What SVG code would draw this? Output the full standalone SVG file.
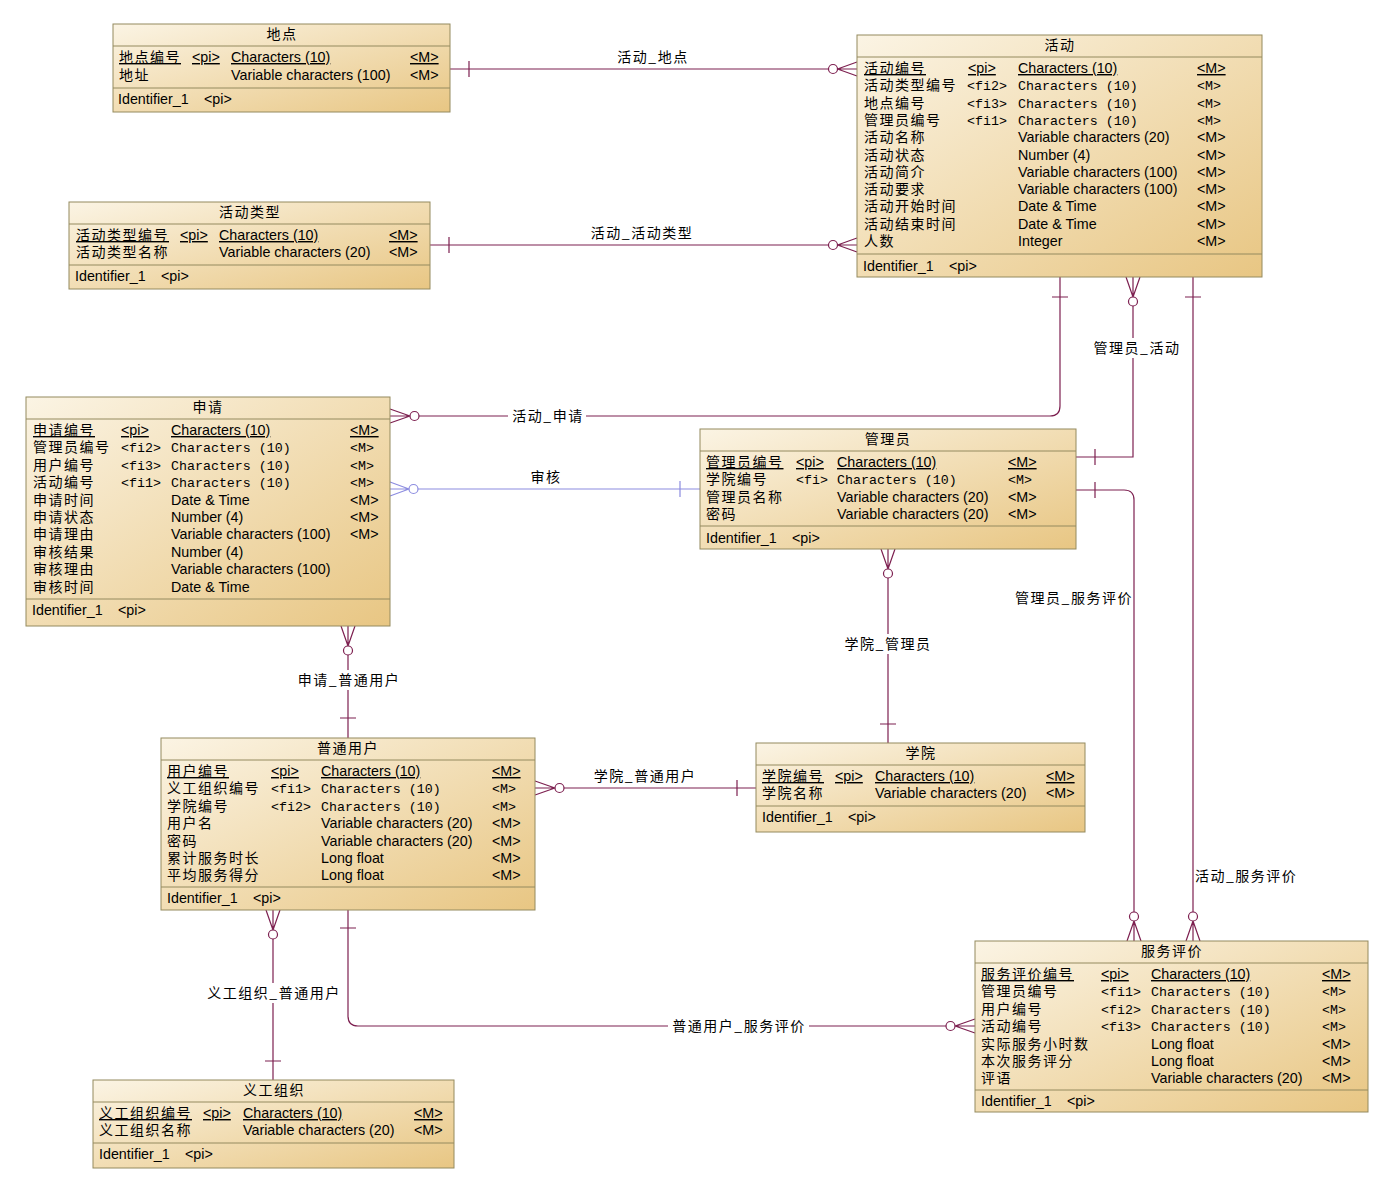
<svg xmlns="http://www.w3.org/2000/svg" width="1390" height="1184" viewBox="0 0 1390 1184">
<defs>
<linearGradient id="g" x1="0" y1="0" x2="1" y2="1">
<stop offset="0" stop-color="#fbf4e4"/>
<stop offset="1" stop-color="#e8c683"/>
</linearGradient>
<style>
.box{fill:url(#g);stroke:#948a5e;stroke-width:1}
.sep{stroke:#948a5e;stroke-width:1}
.cn{font-family:"Noto Sans CJK SC","Noto Sans CJK JP",sans-serif;font-size:14px;letter-spacing:1.5px;fill:#000}
.la{font-family:"Liberation Sans",Arial,sans-serif;font-size:14.3px;fill:#000}
.mo{font-family:"Liberation Mono","Courier New",monospace;font-size:13.3px;fill:#000}
.u{text-decoration:underline}
.ti{text-anchor:middle}
.ln{fill:none;stroke:#7d2050;stroke-width:1.2}
.lv{fill:none;stroke:#8c8ce0;stroke-width:1.2}
.ci{fill:#fff;stroke:#7d2050;stroke-width:1.2}
.civ{fill:#fff;stroke:#8c8ce0;stroke-width:1.2}
.bg{fill:#fff}
</style>
</defs>
<rect width="1390" height="1184" fill="#fff"/>

<g id="connectors">
<path class="ln" d="M450,69 H857 M469,61 V77 M857,62 L837.5,69 M857,76 L837.5,69"/>
<circle class="ci" cx="833" cy="69" r="4.5"/>
<text class="cn ti" x="653" y="62">活动_地点</text>
<path class="ln" d="M430,245 H857 M449,237 V253 M857,238 L837.5,245 M857,252 L837.5,245"/>
<circle class="ci" cx="833" cy="245" r="4.5"/>
<text class="cn ti" x="642" y="238">活动_活动类型</text>
<path class="ln" d="M1060,277 V406 Q1060,416 1050,416 H390 M1052,297 H1068 M390,409 L410,416 M390,423 L410,416"/>
<circle class="ci" cx="414.5" cy="416" r="4.5"/>
<rect class="bg" x="508" y="406" width="78" height="20"/>
<text class="cn ti" x="548" y="421">活动_申请</text>
<path class="ln" d="M1133,277 V457 H1076 M1126,277 L1133,297 M1140,277 L1133,297 M1095,449 V465"/>
<circle class="ci" cx="1133" cy="301.5" r="4.5"/>
<rect class="bg" x="1090" y="338" width="92" height="20"/>
<text class="cn ti" x="1137" y="353">管理员_活动</text>
<path class="ln" d="M1193,277 V941 M1185,297 H1201 M1186,941 L1193,921 M1200,941 L1193,921"/>
<circle class="ci" cx="1193" cy="916.5" r="4.5"/>
<text class="cn" x="1195" y="881">活动_服务评价</text>
<path class="ln" d="M1076,490 H1124 Q1134,490 1134,500 V941 M1095,482 V498 M1127,941 L1134,921 M1141,941 L1134,921"/>
<circle class="ci" cx="1134" cy="916.5" r="4.5"/>
<text class="cn ti" x="1074" y="603">管理员_服务评价</text>
<path class="lv" d="M390,489 H700 M680,481 V497 M390,482 L409,489 M390,496 L409,489"/>
<circle class="civ" cx="413.5" cy="489" r="4.5"/>
<text class="cn ti" x="546" y="482">审核</text>
<path class="ln" d="M888,549 V743 M881,549 L888,569 M895,549 L888,569 M880,724 H896"/>
<circle class="ci" cx="888" cy="573.5" r="4.5"/>
<rect class="bg" x="842" y="634" width="92" height="20"/>
<text class="cn ti" x="888" y="649">学院_管理员</text>
<path class="ln" d="M348,626 V738 M341,626 L348,646 M355,626 L348,646 M340,718 H356"/>
<circle class="ci" cx="348" cy="650.5" r="4.5"/>
<rect class="bg" x="294" y="670" width="110" height="20"/>
<text class="cn ti" x="349" y="685">申请_普通用户</text>
<path class="ln" d="M535,788 H756 M535,781 L555,788 M535,795 L555,788 M737,780 V796"/>
<circle class="ci" cx="559.5" cy="788" r="4.5"/>
<text class="cn ti" x="645" y="781">学院_普通用户</text>
<path class="ln" d="M273,910 V1080 M266,910 L273,930 M280,910 L273,930 M265,1061 H281"/>
<circle class="ci" cx="273" cy="934.5" r="4.5"/>
<rect class="bg" x="203" y="983" width="140" height="20"/>
<text class="cn ti" x="274" y="998">义工组织_普通用户</text>
<path class="ln" d="M348,910 V1016 Q348,1026 358,1026 H975 M340,928 H356 M975,1019 L955,1026 M975,1033 L955,1026"/>
<circle class="ci" cx="950.5" cy="1026" r="4.5"/>
<rect class="bg" x="668" y="1016" width="141" height="20"/>
<text class="cn ti" x="739" y="1031">普通用户_服务评价</text>
</g>

<g id="e-didian">
<rect class="box" x="113" y="24" width="337" height="88"/>
<path class="sep" d="M113,46 H450 M113,88 H450"/>
<text class="cn ti" x="282" y="39">地点</text>
<text class="cn u" x="119" y="62">地点编号</text><text class="la u" x="192" y="62">&lt;pi&gt;</text><text class="la u" x="231" y="62">Characters (10)</text><text class="la u" x="410" y="62">&lt;M&gt;</text>
<text class="cn" x="119" y="80">地址</text><text class="la" x="231" y="80">Variable characters (100)</text><text class="la" x="410" y="80">&lt;M&gt;</text>
<text class="la" x="118" y="104">Identifier_1</text><text class="la" x="204" y="104">&lt;pi&gt;</text>
</g>

<g id="e-huodong">
<rect class="box" x="857" y="35" width="405" height="242"/>
<path class="sep" d="M857,57 H1262 M857,254 H1262"/>
<text class="cn ti" x="1060" y="50">活动</text>
<text class="cn u" x="864" y="73">活动编号</text><text class="la u" x="968" y="73">&lt;pi&gt;</text><text class="la u" x="1018" y="73">Characters (10)</text><text class="la u" x="1197" y="73">&lt;M&gt;</text>
<text class="cn" x="864" y="90.3">活动类型编号</text><text class="mo" x="967" y="90.3">&lt;fi2&gt;</text><text class="mo" x="1018" y="90.3">Characters (10)</text><text class="mo" x="1197" y="90.3">&lt;M&gt;</text>
<text class="cn" x="864" y="107.6">地点编号</text><text class="mo" x="967" y="107.6">&lt;fi3&gt;</text><text class="mo" x="1018" y="107.6">Characters (10)</text><text class="mo" x="1197" y="107.6">&lt;M&gt;</text>
<text class="cn" x="864" y="124.9">管理员编号</text><text class="mo" x="967" y="124.9">&lt;fi1&gt;</text><text class="mo" x="1018" y="124.9">Characters (10)</text><text class="mo" x="1197" y="124.9">&lt;M&gt;</text>
<text class="cn" x="864" y="142.2">活动名称</text><text class="la" x="1018" y="142.2">Variable characters (20)</text><text class="la" x="1197" y="142.2">&lt;M&gt;</text>
<text class="cn" x="864" y="159.5">活动状态</text><text class="la" x="1018" y="159.5">Number (4)</text><text class="la" x="1197" y="159.5">&lt;M&gt;</text>
<text class="cn" x="864" y="176.8">活动简介</text><text class="la" x="1018" y="176.8">Variable characters (100)</text><text class="la" x="1197" y="176.8">&lt;M&gt;</text>
<text class="cn" x="864" y="194.1">活动要求</text><text class="la" x="1018" y="194.1">Variable characters (100)</text><text class="la" x="1197" y="194.1">&lt;M&gt;</text>
<text class="cn" x="864" y="211.4">活动开始时间</text><text class="la" x="1018" y="211.4">Date &amp; Time</text><text class="la" x="1197" y="211.4">&lt;M&gt;</text>
<text class="cn" x="864" y="228.7">活动结束时间</text><text class="la" x="1018" y="228.7">Date &amp; Time</text><text class="la" x="1197" y="228.7">&lt;M&gt;</text>
<text class="cn" x="864" y="246">人数</text><text class="la" x="1018" y="246">Integer</text><text class="la" x="1197" y="246">&lt;M&gt;</text>
<text class="la" x="863" y="271">Identifier_1</text><text class="la" x="949" y="271">&lt;pi&gt;</text>
</g>

<g id="e-huodongleixing">
<rect class="box" x="69" y="202" width="361" height="87"/>
<path class="sep" d="M69,224 H430 M69,265 H430"/>
<text class="cn ti" x="250" y="217">活动类型</text>
<text class="cn u" x="76" y="240">活动类型编号</text><text class="la u" x="180" y="240">&lt;pi&gt;</text><text class="la u" x="219" y="240">Characters (10)</text><text class="la u" x="389" y="240">&lt;M&gt;</text>
<text class="cn" x="76" y="257.4">活动类型名称</text><text class="la" x="219" y="257.4">Variable characters (20)</text><text class="la" x="389" y="257.4">&lt;M&gt;</text>
<text class="la" x="75" y="281">Identifier_1</text><text class="la" x="161" y="281">&lt;pi&gt;</text>
</g>

<g id="e-shenqing">
<rect class="box" x="26" y="397" width="364" height="229"/>
<path class="sep" d="M26,419 H390 M26,599 H390"/>
<text class="cn ti" x="208" y="412">申请</text>
<text class="cn u" x="33" y="435">申请编号</text><text class="la u" x="121" y="435">&lt;pi&gt;</text><text class="la u" x="171" y="435">Characters (10)</text><text class="la u" x="350" y="435">&lt;M&gt;</text>
<text class="cn" x="33" y="452.4">管理员编号</text><text class="mo" x="121" y="452.4">&lt;fi2&gt;</text><text class="mo" x="171" y="452.4">Characters (10)</text><text class="mo" x="350" y="452.4">&lt;M&gt;</text>
<text class="cn" x="33" y="469.8">用户编号</text><text class="mo" x="121" y="469.8">&lt;fi3&gt;</text><text class="mo" x="171" y="469.8">Characters (10)</text><text class="mo" x="350" y="469.8">&lt;M&gt;</text>
<text class="cn" x="33" y="487.2">活动编号</text><text class="mo" x="121" y="487.2">&lt;fi1&gt;</text><text class="mo" x="171" y="487.2">Characters (10)</text><text class="mo" x="350" y="487.2">&lt;M&gt;</text>
<text class="cn" x="33" y="504.6">申请时间</text><text class="la" x="171" y="504.6">Date &amp; Time</text><text class="la" x="350" y="504.6">&lt;M&gt;</text>
<text class="cn" x="33" y="522">申请状态</text><text class="la" x="171" y="522">Number (4)</text><text class="la" x="350" y="522">&lt;M&gt;</text>
<text class="cn" x="33" y="539.4">申请理由</text><text class="la" x="171" y="539.4">Variable characters (100)</text><text class="la" x="350" y="539.4">&lt;M&gt;</text>
<text class="cn" x="33" y="556.8">审核结果</text><text class="la" x="171" y="556.8">Number (4)</text>
<text class="cn" x="33" y="574.2">审核理由</text><text class="la" x="171" y="574.2">Variable characters (100)</text>
<text class="cn" x="33" y="591.6">审核时间</text><text class="la" x="171" y="591.6">Date &amp; Time</text>
<text class="la" x="32" y="615">Identifier_1</text><text class="la" x="118" y="615">&lt;pi&gt;</text>
</g>

<g id="e-guanliyuan">
<rect class="box" x="700" y="429" width="376" height="120"/>
<path class="sep" d="M700,451 H1076 M700,526 H1076"/>
<text class="cn ti" x="888" y="444">管理员</text>
<text class="cn u" x="706" y="467">管理员编号</text><text class="la u" x="796" y="467">&lt;pi&gt;</text><text class="la u" x="837" y="467">Characters (10)</text><text class="la u" x="1008" y="467">&lt;M&gt;</text>
<text class="cn" x="706" y="484.4">学院编号</text><text class="mo" x="796" y="484.4">&lt;fi&gt;</text><text class="mo" x="837" y="484.4">Characters (10)</text><text class="mo" x="1008" y="484.4">&lt;M&gt;</text>
<text class="cn" x="706" y="501.8">管理员名称</text><text class="la" x="837" y="501.8">Variable characters (20)</text><text class="la" x="1008" y="501.8">&lt;M&gt;</text>
<text class="cn" x="706" y="519.2">密码</text><text class="la" x="837" y="519.2">Variable characters (20)</text><text class="la" x="1008" y="519.2">&lt;M&gt;</text>
<text class="la" x="706" y="543">Identifier_1</text><text class="la" x="792" y="543">&lt;pi&gt;</text>
</g>

<g id="e-putongyonghu">
<rect class="box" x="161" y="738" width="374" height="172"/>
<path class="sep" d="M161,760 H535 M161,887 H535"/>
<text class="cn ti" x="348" y="753">普通用户</text>
<text class="cn u" x="167" y="776">用户编号</text><text class="la u" x="271" y="776">&lt;pi&gt;</text><text class="la u" x="321" y="776">Characters (10)</text><text class="la u" x="492" y="776">&lt;M&gt;</text>
<text class="cn" x="167" y="793.4">义工组织编号</text><text class="mo" x="271" y="793.4">&lt;fi1&gt;</text><text class="mo" x="321" y="793.4">Characters (10)</text><text class="mo" x="492" y="793.4">&lt;M&gt;</text>
<text class="cn" x="167" y="810.8">学院编号</text><text class="mo" x="271" y="810.8">&lt;fi2&gt;</text><text class="mo" x="321" y="810.8">Characters (10)</text><text class="mo" x="492" y="810.8">&lt;M&gt;</text>
<text class="cn" x="167" y="828.2">用户名</text><text class="la" x="321" y="828.2">Variable characters (20)</text><text class="la" x="492" y="828.2">&lt;M&gt;</text>
<text class="cn" x="167" y="845.6">密码</text><text class="la" x="321" y="845.6">Variable characters (20)</text><text class="la" x="492" y="845.6">&lt;M&gt;</text>
<text class="cn" x="167" y="863">累计服务时长</text><text class="la" x="321" y="863">Long float</text><text class="la" x="492" y="863">&lt;M&gt;</text>
<text class="cn" x="167" y="880.4">平均服务得分</text><text class="la" x="321" y="880.4">Long float</text><text class="la" x="492" y="880.4">&lt;M&gt;</text>
<text class="la" x="167" y="903">Identifier_1</text><text class="la" x="253" y="903">&lt;pi&gt;</text>
</g>

<g id="e-xueyuan">
<rect class="box" x="756" y="743" width="329" height="89"/>
<path class="sep" d="M756,765 H1085 M756,806 H1085"/>
<text class="cn ti" x="921" y="758">学院</text>
<text class="cn u" x="762" y="781">学院编号</text><text class="la u" x="835" y="781">&lt;pi&gt;</text><text class="la u" x="875" y="781">Characters (10)</text><text class="la u" x="1046" y="781">&lt;M&gt;</text>
<text class="cn" x="762" y="798.4">学院名称</text><text class="la" x="875" y="798.4">Variable characters (20)</text><text class="la" x="1046" y="798.4">&lt;M&gt;</text>
<text class="la" x="762" y="822">Identifier_1</text><text class="la" x="848" y="822">&lt;pi&gt;</text>
</g>

<g id="e-fuwupingjia">
<rect class="box" x="975" y="941" width="393" height="171"/>
<path class="sep" d="M975,963 H1368 M975,1090 H1368"/>
<text class="cn ti" x="1172" y="956">服务评价</text>
<text class="cn u" x="981" y="979">服务评价编号</text><text class="la u" x="1101" y="979">&lt;pi&gt;</text><text class="la u" x="1151" y="979">Characters (10)</text><text class="la u" x="1322" y="979">&lt;M&gt;</text>
<text class="cn" x="981" y="996.4">管理员编号</text><text class="mo" x="1101" y="996.4">&lt;fi1&gt;</text><text class="mo" x="1151" y="996.4">Characters (10)</text><text class="mo" x="1322" y="996.4">&lt;M&gt;</text>
<text class="cn" x="981" y="1013.8">用户编号</text><text class="mo" x="1101" y="1013.8">&lt;fi2&gt;</text><text class="mo" x="1151" y="1013.8">Characters (10)</text><text class="mo" x="1322" y="1013.8">&lt;M&gt;</text>
<text class="cn" x="981" y="1031.2">活动编号</text><text class="mo" x="1101" y="1031.2">&lt;fi3&gt;</text><text class="mo" x="1151" y="1031.2">Characters (10)</text><text class="mo" x="1322" y="1031.2">&lt;M&gt;</text>
<text class="cn" x="981" y="1048.6">实际服务小时数</text><text class="la" x="1151" y="1048.6">Long float</text><text class="la" x="1322" y="1048.6">&lt;M&gt;</text>
<text class="cn" x="981" y="1066">本次服务评分</text><text class="la" x="1151" y="1066">Long float</text><text class="la" x="1322" y="1066">&lt;M&gt;</text>
<text class="cn" x="981" y="1083.4">评语</text><text class="la" x="1151" y="1083.4">Variable characters (20)</text><text class="la" x="1322" y="1083.4">&lt;M&gt;</text>
<text class="la" x="981" y="1106">Identifier_1</text><text class="la" x="1067" y="1106">&lt;pi&gt;</text>
</g>

<g id="e-yigongzuzhi">
<rect class="box" x="93" y="1080" width="361" height="88"/>
<path class="sep" d="M93,1102 H454 M93,1143 H454"/>
<text class="cn ti" x="274" y="1095">义工组织</text>
<text class="cn u" x="99" y="1118">义工组织编号</text><text class="la u" x="203" y="1118">&lt;pi&gt;</text><text class="la u" x="243" y="1118">Characters (10)</text><text class="la u" x="414" y="1118">&lt;M&gt;</text>
<text class="cn" x="99" y="1135.4">义工组织名称</text><text class="la" x="243" y="1135.4">Variable characters (20)</text><text class="la" x="414" y="1135.4">&lt;M&gt;</text>
<text class="la" x="99" y="1159">Identifier_1</text><text class="la" x="185" y="1159">&lt;pi&gt;</text>
</g>
</svg>
